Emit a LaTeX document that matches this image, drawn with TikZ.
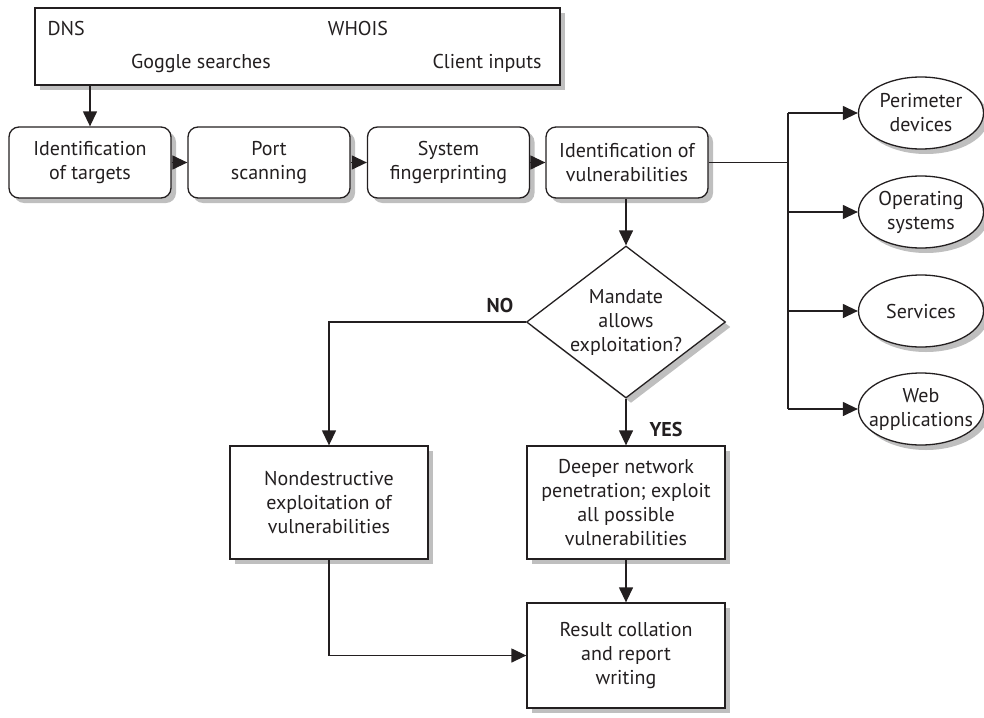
\documentclass[tikz,border=0pt]{standalone}
\usepackage{fontspec}
\setmainfont{PT Sans}
\usetikzlibrary{shapes.geometric,shadows,arrows.meta}
\definecolor{ink}{HTML}{231F20}
\begin{document}
\begin{tikzpicture}[x=1pt,y=-1pt,
  every node/.style={text=ink,font=\fontsize{20}{24}\selectfont},
  shad/.style={drop shadow={shadow xshift=5pt,shadow yshift=-5pt,fill=black!25,opacity=1}},
  rbox/.style={draw=ink,line width=1.3pt,rounded corners=10pt,fill=white,shad,minimum width=162pt,minimum height=71pt,align=center,inner sep=2pt},
  sbox/.style={draw=ink,line width=1.3pt,fill=white,shad,minimum width=198pt,align=center,inner sep=2pt},
  ell/.style={draw=ink,line width=1.3pt,ellipse,fill=white,shad,minimum width=125pt,minimum height=72pt,inner sep=-8pt,align=center},
  conn/.style={draw=ink,line width=1.3pt},
  arr/.style={conn,-{Triangle[length=15pt,width=14pt]}},
  lbl/.style={font=\fontsize{20}{24}\selectfont\bfseries}
]
\useasboundingbox (0,0) rectangle (984,717);
% top input box
\node[draw=ink,line width=1.3pt,fill=white,shad,minimum width=525pt,minimum height=77pt] (src) at (297.5,46.5) {};
\node[anchor=west] (dns) at (44,29) {DNS};
\node (whois) at (358,29) {WHOIS};
\node (goog) at (201,63) {Goggle searches};
\node (client) at (487,63) {Client inputs};
% row
\node[rbox] (t1) at (90,162.5) {Identification\\of targets};
\node[rbox] (t2) at (269,162.5) {Port\\scanning};
\node[rbox] (t3) at (448.5,162.5) {System\\fingerprinting};
\node[rbox] (t4) at (627,162.5) {Identification of\\vulnerabilities};
\draw[arr] (t1.north |- src.south) -- (t1.north);
\draw[arr] (t1) -- (t2);
\draw[arr] (t2) -- (t3);
\draw[arr] (t3) -- (t4);
% decision
\node[diamond,draw=ink,line width=1.3pt,fill=white,shad,minimum width=199pt,minimum height=152pt,inner sep=0pt] (dec) at (626,322) {};
\node[align=center] (dectext) at (dec.center) {Mandate\\allows\\exploitation?};
\draw[arr] (t4.south -| dec.north) -- (dec.north);
% ellipses
\node[ell] (per) at (921,113) {Perimeter\\devices};
\node[ell] (os) at (921,212) {Operating\\systems};
\node[ell] (svc) at (921,311) {Services};
\node[ell] (web) at (921,409) {Web\\applications};
\coordinate (bus) at (788,162.5);
\draw[conn] (t4.east) -- (bus);
\draw[conn] (bus |- per) -- (bus |- web);
\draw[arr] (bus |- per) -- (per.west);
\draw[arr] (bus |- os) -- (os.west);
\draw[arr] (bus |- svc) -- (svc.west);
\draw[arr] (bus |- web) -- (web.west);
% lower boxes
\node[sbox,minimum height=113pt] (nd) at (329,502.5) {Nondestructive\\exploitation of\\vulnerabilities};
\node[sbox,minimum height=113pt] (deep) at (626,502.5) {Deeper network\\penetration; exploit\\all possible\\vulnerabilities};
\node[sbox,minimum height=105pt] (res) at (626,655.5) {Result collation\\and report\\writing};
\draw[arr] (dec.west) -| (nd.north);
\draw[arr] (dec.south) -- (deep.north);
\draw[arr] (deep.south) -- (res.north);
\draw[arr] (nd.south) |- (res.west);
\node[lbl] (no) at (500,305) {NO};
\node[lbl] (yes) at (666,429) {YES};
\end{tikzpicture}
\end{document}
